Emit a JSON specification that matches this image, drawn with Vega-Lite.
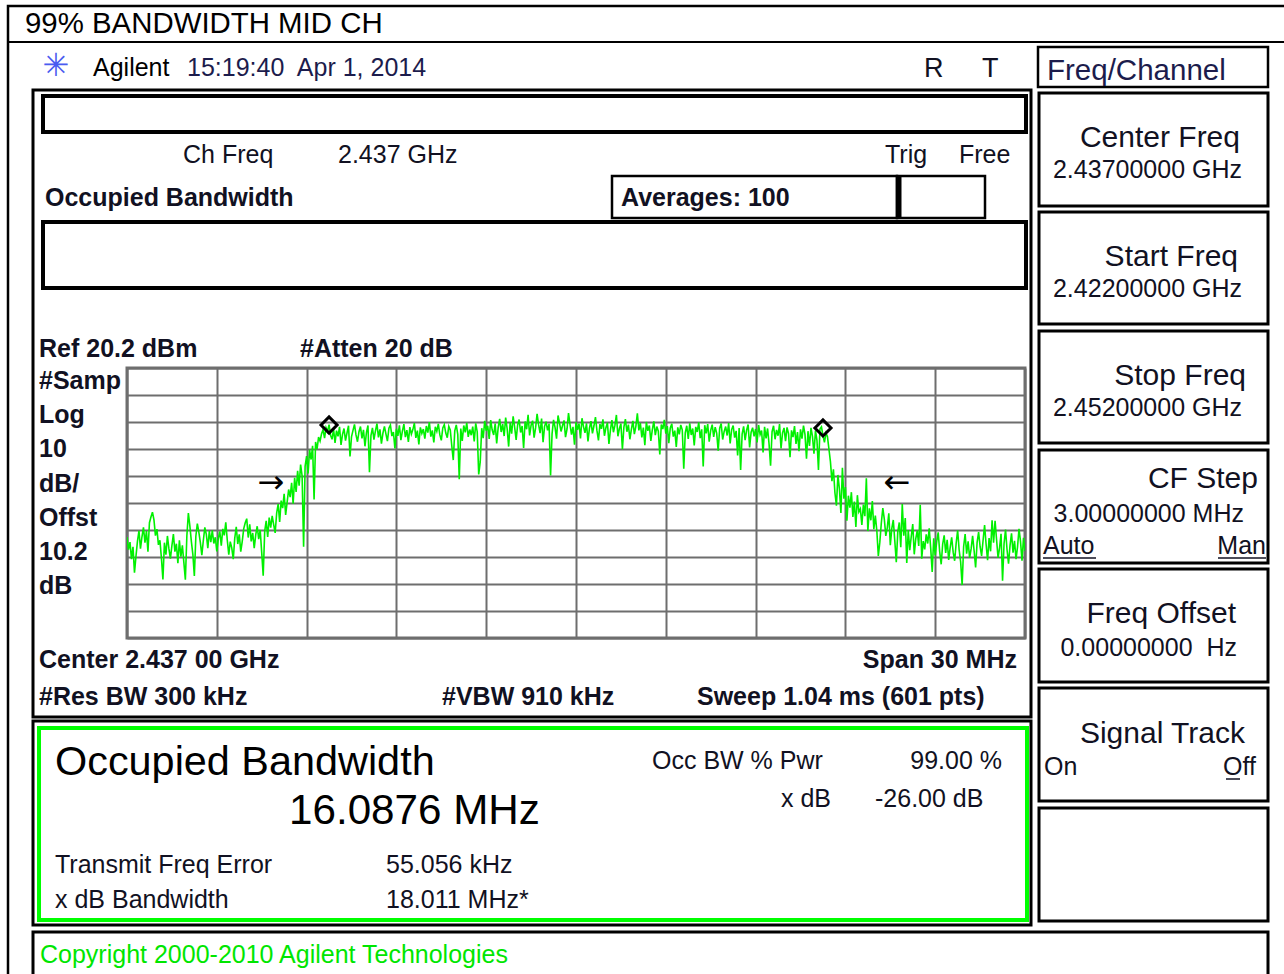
{
"$schema": "https://vega.github.io/schema/vega-lite/v6.json",
"width": 898, "height": 270,
"autosize": {"type": "none"},
"padding": {"left": 127, "top": 368, "right": 259, "bottom": 336},
"background": "white",
"config": {
 "view": {"stroke": "#6e6e6e", "strokeWidth": 3},
 "text": {"font": "Liberation Sans", "fontSize": 25, "align": "left", "baseline": "alphabetic", "color": "#111122"}
},
"data": {"values": [{}]},
"layer": [
 {"mark": {"type": "rect", "filled": false, "stroke": "#000", "strokeWidth": 2.5}, "encoding": {"x": {"datum": 2418.0245}, "x2": {"datum": 2460.853}, "y": {"datum": 154.2741}, "y2": {"datum": -206.4667}}},
 {"mark": {"type": "rule", "stroke": "#000", "strokeWidth": 2}, "encoding": {"x": {"datum": 2418.0245}, "x2": {"datum": 2460.853}, "y": {"datum": 140.9407}}},
 {"mark": {"type": "rect", "filled": false, "stroke": "#000", "strokeWidth": 2.5}, "encoding": {"x": {"datum": 2452.4343}, "x2": {"datum": 2460.1181}, "y": {"datum": 139.0889}, "y2": {"datum": 124.2741}}},
 {"mark": {"type": "rect", "filled": false, "stroke": "#000", "strokeWidth": 3}, "encoding": {"x": {"datum": 2418.8597}, "x2": {"datum": 2452.2005}, "y": {"datum": 123.163}, "y2": {"datum": -109.0593}}},
 {"mark": {"type": "rect", "filled": false, "stroke": "#000", "strokeWidth": 4}, "encoding": {"x": {"datum": 2419.1938}, "x2": {"datum": 2452.0334}, "y": {"datum": 120.9407}, "y2": {"datum": 107.6074}}},
 {"mark": {"type": "rect", "filled": false, "stroke": "#000", "strokeWidth": 2.5}, "encoding": {"x": {"datum": 2438.2027}, "x2": {"datum": 2447.7239}, "y": {"datum": 91.3111}, "y2": {"datum": 75.7556}}},
 {"mark": {"type": "rect", "filled": false, "stroke": "#000", "strokeWidth": 2.5}, "encoding": {"x": {"datum": 2447.7239}, "x2": {"datum": 2450.6637}, "y": {"datum": 91.3111}, "y2": {"datum": 75.7556}}},
 {"mark": {"type": "rule", "stroke": "#000", "strokeWidth": 5}, "encoding": {"x": {"datum": 2447.7907}, "y": {"datum": 91.3111}, "y2": {"datum": 75.7556}}},
 {"mark": {"type": "rect", "filled": false, "stroke": "#000", "strokeWidth": 4}, "encoding": {"x": {"datum": 2419.1938}, "x2": {"datum": 2452.0334}, "y": {"datum": 74.2741}, "y2": {"datum": 49.8296}}},
 {"mark": {"type": "rect", "filled": false, "stroke": "#000", "strokeWidth": 3}, "encoding": {"x": {"datum": 2418.8597}, "x2": {"datum": 2452.2005}, "y": {"datum": -110.5407}, "y2": {"datum": -186.0963}}},
 {"mark": {"type": "rect", "filled": false, "stroke": "#00ff00", "strokeWidth": 4}, "encoding": {"x": {"datum": 2419.0601}, "x2": {"datum": 2452.0668}, "y": {"datum": -113.1333}, "y2": {"datum": -184.2444}}},
 {"mark": {"type": "rect", "filled": false, "stroke": "#000", "strokeWidth": 3}, "encoding": {"x": {"datum": 2418.8597}, "x2": {"datum": 2460.1181}, "y": {"datum": -188.6889}, "y2": {"datum": -206.4667}}},
 {"mark": {"type": "rect", "filled": false, "stroke": "#000", "strokeWidth": 3}, "encoding": {"x": {"datum": 2452.4677}, "x2": {"datum": 2460.1181}, "y": {"datum": 122.0519}, "y2": {"datum": 80.2}}},
 {"mark": {"type": "rect", "filled": false, "stroke": "#000", "strokeWidth": 3}, "encoding": {"x": {"datum": 2452.4677}, "x2": {"datum": 2460.1181}, "y": {"datum": 77.9778}, "y2": {"datum": 36.4963}}},
 {"mark": {"type": "rect", "filled": false, "stroke": "#000", "strokeWidth": 3}, "encoding": {"x": {"datum": 2452.4677}, "x2": {"datum": 2460.1181}, "y": {"datum": 33.9037}, "y2": {"datum": -7.5778}}},
 {"mark": {"type": "rect", "filled": false, "stroke": "#000", "strokeWidth": 3}, "encoding": {"x": {"datum": 2452.4677}, "x2": {"datum": 2460.1181}, "y": {"datum": -10.1704}, "y2": {"datum": -52.0222}}},
 {"mark": {"type": "rect", "filled": false, "stroke": "#000", "strokeWidth": 3}, "encoding": {"x": {"datum": 2452.4677}, "x2": {"datum": 2460.1181}, "y": {"datum": -54.2444}, "y2": {"datum": -96.0963}}},
 {"mark": {"type": "rect", "filled": false, "stroke": "#000", "strokeWidth": 3}, "encoding": {"x": {"datum": 2452.4677}, "x2": {"datum": 2460.1181}, "y": {"datum": -98.3185}, "y2": {"datum": -140.1704}}},
 {"mark": {"type": "rect", "filled": false, "stroke": "#000", "strokeWidth": 3}, "encoding": {"x": {"datum": 2452.4677}, "x2": {"datum": 2460.1181}, "y": {"datum": -142.763}, "y2": {"datum": -184.6148}}},
 {
  "data": {"values": [
{"f":2422.00,"p":-42.4},{"f":2422.05,"p":-47.1},{"f":2422.10,"p":-44.3},{"f":2422.15,"p":-50.6},{"f":2422.20,"p":-46.0},{"f":2422.25,"p":-55.6},{"f":2422.30,"p":-49.5},{"f":2422.35,"p":-43.9},{"f":2422.40,"p":-40.1},{"f":2422.45,"p":-46.7},
{"f":2422.50,"p":-42.3},{"f":2422.55,"p":-38.8},{"f":2422.60,"p":-44.5},{"f":2422.65,"p":-40.2},{"f":2422.70,"p":-47.8},{"f":2422.75,"p":-37.1},{"f":2422.80,"p":-35.0},{"f":2422.85,"p":-33.2},{"f":2422.90,"p":-36.0},{"f":2422.95,"p":-41.9},
{"f":2423.00,"p":-39.5},{"f":2423.05,"p":-45.3},{"f":2423.10,"p":-43.6},{"f":2423.15,"p":-50.2},{"f":2423.20,"p":-58.1},{"f":2423.25,"p":-44.5},{"f":2423.30,"p":-48.9},{"f":2423.35,"p":-42.0},{"f":2423.40,"p":-46.7},{"f":2423.45,"p":-50.4},
{"f":2423.50,"p":-45.6},{"f":2423.55,"p":-41.3},{"f":2423.60,"p":-47.8},{"f":2423.65,"p":-44.9},{"f":2423.70,"p":-52.1},{"f":2423.75,"p":-43.6},{"f":2423.80,"p":-49.7},{"f":2423.85,"p":-45.5},{"f":2423.90,"p":-51.9},{"f":2423.95,"p":-58.2},
{"f":2424.00,"p":-41.9},{"f":2424.05,"p":-33.5},{"f":2424.10,"p":-38.3},{"f":2424.15,"p":-44.0},{"f":2424.20,"p":-48.8},{"f":2424.25,"p":-56.8},{"f":2424.30,"p":-42.1},{"f":2424.35,"p":-37.4},{"f":2424.40,"p":-40.6},{"f":2424.45,"p":-44.4},
{"f":2424.50,"p":-49.1},{"f":2424.55,"p":-43.7},{"f":2424.60,"p":-38.8},{"f":2424.65,"p":-41.4},{"f":2424.70,"p":-46.5},{"f":2424.75,"p":-40.2},{"f":2424.80,"p":-44.3},{"f":2424.85,"p":-39.9},{"f":2424.90,"p":-44.8},{"f":2424.95,"p":-42.5},
{"f":2425.00,"p":-47.7},{"f":2425.05,"p":-43.0},{"f":2425.10,"p":-40.3},{"f":2425.15,"p":-45.6},{"f":2425.20,"p":-39.4},{"f":2425.25,"p":-41.8},{"f":2425.30,"p":-37.0},{"f":2425.35,"p":-43.5},{"f":2425.40,"p":-48.9},{"f":2425.45,"p":-44.1},
{"f":2425.50,"p":-46.4},{"f":2425.55,"p":-50.6},{"f":2425.60,"p":-42.8},{"f":2425.65,"p":-38.6},{"f":2425.70,"p":-45.0},{"f":2425.75,"p":-41.4},{"f":2425.80,"p":-47.8},{"f":2425.85,"p":-44.0},{"f":2425.90,"p":-39.3},{"f":2425.95,"p":-37.1},
{"f":2426.00,"p":-35.6},{"f":2426.05,"p":-42.6},{"f":2426.10,"p":-37.7},{"f":2426.15,"p":-44.0},{"f":2426.20,"p":-40.9},{"f":2426.25,"p":-46.5},{"f":2426.30,"p":-41.6},{"f":2426.35,"p":-38.4},{"f":2426.40,"p":-43.2},{"f":2426.45,"p":-39.8},
{"f":2426.50,"p":-48.1},{"f":2426.55,"p":-56.7},{"f":2426.60,"p":-40.3},{"f":2426.65,"p":-36.4},{"f":2426.70,"p":-42.4},{"f":2426.75,"p":-35.2},{"f":2426.80,"p":-38.9},{"f":2426.85,"p":-34.6},{"f":2426.90,"p":-37.8},{"f":2426.95,"p":-40.9},
{"f":2427.00,"p":-33.5},{"f":2427.05,"p":-30.2},{"f":2427.10,"p":-36.8},{"f":2427.15,"p":-28.9},{"f":2427.20,"p":-31.7},{"f":2427.25,"p":-26.4},{"f":2427.30,"p":-34.2},{"f":2427.35,"p":-29.5},{"f":2427.40,"p":-24.8},{"f":2427.45,"p":-27.6},
{"f":2427.50,"p":-22.3},{"f":2427.55,"p":-30.1},{"f":2427.60,"p":-20.5},{"f":2427.65,"p":-25.7},{"f":2427.70,"p":-17.9},{"f":2427.75,"p":-23.4},{"f":2427.80,"p":-15.6},{"f":2427.85,"p":-19.8},{"f":2427.90,"p":-46.0},{"f":2427.95,"p":-16.2},
{"f":2428.00,"p":-12.4},{"f":2428.05,"p":-18.9},{"f":2428.10,"p":-10.1},{"f":2428.15,"p":-13.7},{"f":2428.20,"p":-8.6},{"f":2428.25,"p":-28.5},{"f":2428.30,"p":-7.2},{"f":2428.35,"p":-9.8},{"f":2428.40,"p":-5.4},{"f":2428.45,"p":-6.9},
{"f":2428.50,"p":-4.1},{"f":2428.55,"p":-2.6},{"f":2428.60,"p":-5.8},{"f":2428.65,"p":-1.9},{"f":2428.70,"p":-3.3},{"f":2428.75,"p":-0.8},{"f":2428.80,"p":-4.7},{"f":2428.85,"p":-6.2},{"f":2428.90,"p":-2.4},{"f":2428.95,"p":-7.5},
{"f":2429.00,"p":-3.0},{"f":2429.05,"p":-5.1},{"f":2429.10,"p":-1.6},{"f":2429.15,"p":-8.3},{"f":2429.20,"p":-4.4},{"f":2429.25,"p":-2.2},{"f":2429.30,"p":-6.7},{"f":2429.35,"p":-3.8},{"f":2429.40,"p":-1.2},{"f":2429.45,"p":-12.6},
{"f":2429.50,"p":-5.3},{"f":2429.55,"p":-2.9},{"f":2429.60,"p":-0.7},{"f":2429.65,"p":-4.6},{"f":2429.70,"p":-7.1},{"f":2429.75,"p":-3.4},{"f":2429.80,"p":-1.5},{"f":2429.85,"p":-5.9},{"f":2429.90,"p":-2.7},{"f":2429.95,"p":-8.8},
{"f":2430.00,"p":-3.6},{"f":2430.05,"p":-1.1},{"f":2430.10,"p":-18.4},{"f":2430.15,"p":-4.8},{"f":2430.20,"p":-2.0},{"f":2430.25,"p":-6.3},{"f":2430.30,"p":-3.1},{"f":2430.35,"p":-0.4},{"f":2430.40,"p":-5.5},{"f":2430.45,"p":-2.5},
{"f":2430.50,"p":-7.8},{"f":2430.55,"p":-3.9},{"f":2430.60,"p":-1.4},{"f":2430.65,"p":-4.2},{"f":2430.70,"p":-6.9},{"f":2430.75,"p":-2.1},{"f":2430.80,"p":-0.9},{"f":2430.85,"p":-5.0},{"f":2430.90,"p":-3.5},{"f":2430.95,"p":-9.6},
{"f":2431.00,"p":-2.3},{"f":2431.05,"p":-4.9},{"f":2431.10,"p":-1.0},{"f":2431.15,"p":-6.5},{"f":2431.20,"p":-3.2},{"f":2431.25,"p":-0.6},{"f":2431.30,"p":-5.4},{"f":2431.35,"p":-2.8},{"f":2431.40,"p":-7.2},{"f":2431.45,"p":-1.7},
{"f":2431.50,"p":-4.3},{"f":2431.55,"p":-2.6},{"f":2431.60,"p":-0.2},{"f":2431.65,"p":-5.7},{"f":2431.70,"p":-3.0},{"f":2431.75,"p":-8.1},{"f":2431.80,"p":-1.8},{"f":2431.85,"p":-4.0},{"f":2431.90,"p":-2.4},{"f":2431.95,"p":-6.0},
{"f":2432.00,"p":-1.3},{"f":2432.05,"p":-3.7},{"f":2432.10,"p":0.2},{"f":2432.15,"p":-5.2},{"f":2432.20,"p":-2.9},{"f":2432.25,"p":-7.4},{"f":2432.30,"p":-1.6},{"f":2432.35,"p":-3.3},{"f":2432.40,"p":-0.5},{"f":2432.45,"p":-4.5},
{"f":2432.50,"p":-6.6},{"f":2432.55,"p":-2.0},{"f":2432.60,"p":-0.8},{"f":2432.65,"p":-3.9},{"f":2432.70,"p":-5.6},{"f":2432.75,"p":-1.4},{"f":2432.80,"p":-2.7},{"f":2432.85,"p":-8.6},{"f":2432.90,"p":-13.9},{"f":2432.95,"p":-3.1},
{"f":2433.00,"p":-0.9},{"f":2433.05,"p":-4.4},{"f":2433.10,"p":-21.0},{"f":2433.15,"p":-2.2},{"f":2433.20,"p":-6.8},{"f":2433.25,"p":-1.1},{"f":2433.30,"p":-3.6},{"f":2433.35,"p":-0.1},{"f":2433.40,"p":-5.3},{"f":2433.45,"p":-2.6},
{"f":2433.50,"p":-4.7},{"f":2433.55,"p":-1.5},{"f":2433.60,"p":-7.0},{"f":2433.65,"p":-0.3},{"f":2433.70,"p":-3.4},{"f":2433.75,"p":-19.2},{"f":2433.80,"p":-14.6},{"f":2433.85,"p":-2.1},{"f":2433.90,"p":-5.8},{"f":2433.95,"p":0.6},
{"f":2434.00,"p":-3.0},{"f":2434.05,"p":-1.2},{"f":2434.10,"p":-6.1},{"f":2434.15,"p":0.9},{"f":2434.20,"p":-2.8},{"f":2434.25,"p":-4.6},{"f":2434.30,"p":-0.4},{"f":2434.35,"p":-7.7},{"f":2434.40,"p":-1.9},{"f":2434.45,"p":1.4},
{"f":2434.50,"p":-3.5},{"f":2434.55,"p":-0.6},{"f":2434.60,"p":-5.0},{"f":2434.65,"p":1.8},{"f":2434.70,"p":-2.3},{"f":2434.75,"p":-8.9},{"f":2434.80,"p":-0.1},{"f":2434.85,"p":-4.1},{"f":2434.90,"p":2.3},{"f":2434.95,"p":-1.7},
{"f":2435.00,"p":-6.4},{"f":2435.05,"p":-0.9},{"f":2435.10,"p":1.1},{"f":2435.15,"p":-3.7},{"f":2435.20,"p":-1.3},{"f":2435.25,"p":-9.4},{"f":2435.30,"p":0.4},{"f":2435.35,"p":-2.5},{"f":2435.40,"p":2.9},{"f":2435.45,"p":-4.8},
{"f":2435.50,"p":-1.0},{"f":2435.55,"p":0.7},{"f":2435.60,"p":-5.6},{"f":2435.65,"p":-2.0},{"f":2435.70,"p":3.2},{"f":2435.75,"p":-0.8},{"f":2435.80,"p":-3.9},{"f":2435.85,"p":1.5},{"f":2435.90,"p":-7.3},{"f":2435.95,"p":-1.4},
{"f":2436.00,"p":0.3},{"f":2436.05,"p":-2.9},{"f":2436.10,"p":-0.5},{"f":2436.15,"p":-19.6},{"f":2436.20,"p":-4.2},{"f":2436.25,"p":1.0},{"f":2436.30,"p":-1.8},{"f":2436.35,"p":-6.0},{"f":2436.40,"p":2.6},{"f":2436.45,"p":-0.2},
{"f":2436.50,"p":-3.3},{"f":2436.55,"p":-1.1},{"f":2436.60,"p":0.8},{"f":2436.65,"p":-5.4},{"f":2436.70,"p":-2.4},{"f":2436.75,"p":3.5},{"f":2436.80,"p":-0.7},{"f":2436.85,"p":-4.5},{"f":2436.90,"p":-1.6},{"f":2436.95,"p":-8.2},
{"f":2437.00,"p":0.1},{"f":2437.05,"p":-2.7},{"f":2437.10,"p":-0.4},{"f":2437.15,"p":-5.9},{"f":2437.20,"p":1.6},{"f":2437.25,"p":-1.5},{"f":2437.30,"p":-3.8},{"f":2437.35,"p":-0.3},{"f":2437.40,"p":-7.0},{"f":2437.45,"p":-2.1},
{"f":2437.50,"p":0.5},{"f":2437.55,"p":-4.0},{"f":2437.60,"p":-1.2},{"f":2437.65,"p":2.0},{"f":2437.70,"p":-3.0},{"f":2437.75,"p":-6.6},{"f":2437.80,"p":-0.6},{"f":2437.85,"p":-2.3},{"f":2437.90,"p":1.2},{"f":2437.95,"p":-4.9},
{"f":2438.00,"p":-1.9},{"f":2438.05,"p":-0.1},{"f":2438.10,"p":-7.9},{"f":2438.15,"p":-2.8},{"f":2438.20,"p":0.9},{"f":2438.25,"p":-3.6},{"f":2438.30,"p":-1.0},{"f":2438.35,"p":2.8},{"f":2438.40,"p":-5.1},{"f":2438.45,"p":-2.2},
{"f":2438.50,"p":-0.4},{"f":2438.55,"p":-9.9},{"f":2438.60,"p":-1.7},{"f":2438.65,"p":1.3},{"f":2438.70,"p":-3.4},{"f":2438.75,"p":-0.8},{"f":2438.80,"p":-6.2},{"f":2438.85,"p":-2.5},{"f":2438.90,"p":0.6},{"f":2438.95,"p":-4.3},
{"f":2439.00,"p":-1.4},{"f":2439.05,"p":3.4},{"f":2439.10,"p":-2.9},{"f":2439.15,"p":-0.2},{"f":2439.20,"p":-5.5},{"f":2439.25,"p":-1.9},{"f":2439.30,"p":-8.4},{"f":2439.35,"p":0.2},{"f":2439.40,"p":-3.1},{"f":2439.45,"p":-1.1},
{"f":2439.50,"p":-6.8},{"f":2439.55,"p":-2.6},{"f":2439.60,"p":0.4},{"f":2439.65,"p":-4.7},{"f":2439.70,"p":-1.5},{"f":2439.75,"p":-3.2},{"f":2439.80,"p":-11.8},{"f":2439.85,"p":-0.7},{"f":2439.90,"p":-2.4},{"f":2439.95,"p":1.0},
{"f":2440.00,"p":-4.1},{"f":2440.05,"p":-1.3},{"f":2440.10,"p":-7.6},{"f":2440.15,"p":-2.0},{"f":2440.20,"p":-0.5},{"f":2440.25,"p":-5.2},{"f":2440.30,"p":-3.0},{"f":2440.35,"p":-9.0},{"f":2440.40,"p":-1.8},{"f":2440.45,"p":-4.4},
{"f":2440.50,"p":-0.9},{"f":2440.55,"p":-2.7},{"f":2440.60,"p":-17.1},{"f":2440.65,"p":-3.8},{"f":2440.70,"p":-1.2},{"f":2440.75,"p":-6.1},{"f":2440.80,"p":-0.3},{"f":2440.85,"p":-4.6},{"f":2440.90,"p":-2.2},{"f":2440.95,"p":-8.5},
{"f":2441.00,"p":-1.6},{"f":2441.05,"p":-3.5},{"f":2441.10,"p":0.1},{"f":2441.15,"p":-5.8},{"f":2441.20,"p":-2.5},{"f":2441.25,"p":-16.3},{"f":2441.30,"p":-1.0},{"f":2441.35,"p":-4.0},{"f":2441.40,"p":-0.6},{"f":2441.45,"p":-7.1},
{"f":2441.50,"p":-2.9},{"f":2441.55,"p":-0.8},{"f":2441.60,"p":-5.3},{"f":2441.65,"p":-1.7},{"f":2441.70,"p":-3.9},{"f":2441.75,"p":-10.4},{"f":2441.80,"p":-2.1},{"f":2441.85,"p":-0.4},{"f":2441.90,"p":-6.3},{"f":2441.95,"p":-3.3},
{"f":2442.00,"p":-1.5},{"f":2442.05,"p":-4.8},{"f":2442.10,"p":-0.2},{"f":2442.15,"p":-7.7},{"f":2442.20,"p":-2.6},{"f":2442.25,"p":-1.1},{"f":2442.30,"p":-5.6},{"f":2442.35,"p":-3.1},{"f":2442.40,"p":-12.2},{"f":2442.45,"p":-2.0},
{"f":2442.50,"p":-17.6},{"f":2442.55,"p":-4.3},{"f":2442.60,"p":-1.4},{"f":2442.65,"p":-6.5},{"f":2442.70,"p":-2.8},{"f":2442.75,"p":-0.7},{"f":2442.80,"p":-9.2},{"f":2442.85,"p":-3.6},{"f":2442.90,"p":-1.9},{"f":2442.95,"p":-5.1},
{"f":2443.00,"p":-2.4},{"f":2443.05,"p":-7.4},{"f":2443.10,"p":-0.9},{"f":2443.15,"p":-4.5},{"f":2443.20,"p":-3.0},{"f":2443.25,"p":-11.1},{"f":2443.30,"p":-1.6},{"f":2443.35,"p":-5.9},{"f":2443.40,"p":-2.2},{"f":2443.45,"p":-8.0},
{"f":2443.50,"p":-16.0},{"f":2443.55,"p":-3.4},{"f":2443.60,"p":-1.2},{"f":2443.65,"p":-6.2},{"f":2443.70,"p":-2.7},{"f":2443.75,"p":-4.9},{"f":2443.80,"p":-0.6},{"f":2443.85,"p":-9.6},{"f":2443.90,"p":-3.8},{"f":2443.95,"p":-2.0},
{"f":2444.00,"p":-6.9},{"f":2444.05,"p":-1.8},{"f":2444.10,"p":-4.1},{"f":2444.15,"p":-12.8},{"f":2444.20,"p":-2.9},{"f":2444.25,"p":-5.4},{"f":2444.30,"p":-1.3},{"f":2444.35,"p":-7.9},{"f":2444.40,"p":-3.5},{"f":2444.45,"p":-10.6},
{"f":2444.50,"p":-2.5},{"f":2444.55,"p":-6.0},{"f":2444.60,"p":-1.1},{"f":2444.65,"p":-4.4},{"f":2444.70,"p":-13.4},{"f":2444.75,"p":-3.2},{"f":2444.80,"p":-8.7},{"f":2444.85,"p":-2.0},{"f":2444.90,"p":-5.1},{"f":2444.95,"p":-11.5},
{"f":2445.00,"p":-3.0},{"f":2445.05,"p":-6.6},{"f":2445.10,"p":-17.6},{"f":2445.15,"p":-2.4},{"f":2445.20,"p":-1.6},{"f":2445.25,"p":-4.8},{"f":2445.30,"p":-7.3},{"f":2445.35,"p":-3.9},{"f":2445.40,"p":-5.2},{"f":2445.45,"p":-9.8},
{"f":2445.50,"p":-14.5},{"f":2445.55,"p":-21.7},{"f":2445.60,"p":-17.3},{"f":2445.65,"p":-26.0},{"f":2445.70,"p":-30.8},{"f":2445.75,"p":-19.4},{"f":2445.80,"p":-24.6},{"f":2445.85,"p":-33.5},{"f":2445.90,"p":-16.8},{"f":2445.95,"p":-28.2},
{"f":2446.00,"p":-23.9},{"f":2446.05,"p":-36.4},{"f":2446.10,"p":-27.1},{"f":2446.15,"p":-31.5},{"f":2446.20,"p":-25.8},{"f":2446.25,"p":-35.0},{"f":2446.30,"p":-29.3},{"f":2446.35,"p":-38.7},{"f":2446.40,"p":-26.9},{"f":2446.45,"p":-33.1},
{"f":2446.50,"p":-32.0},{"f":2446.55,"p":-37.9},{"f":2446.60,"p":-30.4},{"f":2446.65,"p":-34.7},{"f":2446.70,"p":-20.6},{"f":2446.75,"p":-40.2},{"f":2446.80,"p":-31.8},{"f":2446.85,"p":-36.2},{"f":2446.90,"p":-29.1},{"f":2446.95,"p":-39.5},
{"f":2447.00,"p":-34.5},{"f":2447.05,"p":-40.1},{"f":2447.10,"p":-49.4},{"f":2447.15,"p":-44.3},{"f":2447.20,"p":-37.2},{"f":2447.25,"p":-31.7},{"f":2447.30,"p":-35.8},{"f":2447.35,"p":-42.0},{"f":2447.40,"p":-38.9},{"f":2447.45,"p":-33.6},
{"f":2447.50,"p":-45.4},{"f":2447.55,"p":-39.3},{"f":2447.60,"p":-36.1},{"f":2447.65,"p":-43.8},{"f":2447.70,"p":-51.7},{"f":2447.75,"p":-40.5},{"f":2447.80,"p":-37.0},{"f":2447.85,"p":-46.2},{"f":2447.90,"p":-30.2},{"f":2447.95,"p":-41.9},
{"f":2448.00,"p":-35.4},{"f":2448.05,"p":-52.0},{"f":2448.10,"p":-39.8},{"f":2448.15,"p":-47.3},{"f":2448.20,"p":-42.2},{"f":2448.25,"p":-37.6},{"f":2448.30,"p":-48.8},{"f":2448.35,"p":-43.1},{"f":2448.40,"p":-40.0},{"f":2448.45,"p":-45.7},
{"f":2448.50,"p":-30.5},{"f":2448.55,"p":-50.4},{"f":2448.60,"p":-43.9},{"f":2448.65,"p":-47.0},{"f":2448.70,"p":-41.4},{"f":2448.75,"p":-44.8},{"f":2448.80,"p":-39.2},{"f":2448.85,"p":-46.6},{"f":2448.90,"p":-55.3},{"f":2448.95,"p":-42.9},
{"f":2449.00,"p":-49.2},{"f":2449.05,"p":-44.1},{"f":2449.10,"p":-40.7},{"f":2449.15,"p":-47.8},{"f":2449.20,"p":-52.5},{"f":2449.25,"p":-45.0},{"f":2449.30,"p":-41.8},{"f":2449.35,"p":-48.3},{"f":2449.40,"p":-43.4},{"f":2449.45,"p":-50.9},
{"f":2449.50,"p":-46.3},{"f":2449.55,"p":-42.5},{"f":2449.60,"p":-48.0},{"f":2449.65,"p":-51.2},{"f":2449.70,"p":-44.7},{"f":2449.75,"p":-39.9},{"f":2449.80,"p":-47.2},{"f":2449.85,"p":-51.6},{"f":2449.90,"p":-60.2},{"f":2449.95,"p":-45.9},
{"f":2450.00,"p":-41.3},{"f":2450.05,"p":-48.6},{"f":2450.10,"p":-44.0},{"f":2450.15,"p":-50.1},{"f":2450.20,"p":-46.8},{"f":2450.25,"p":-42.0},{"f":2450.30,"p":-47.5},{"f":2450.35,"p":-53.7},{"f":2450.40,"p":-44.4},{"f":2450.45,"p":-40.6},
{"f":2450.50,"p":-46.0},{"f":2450.55,"p":-49.4},{"f":2450.60,"p":-43.6},{"f":2450.65,"p":-38.0},{"f":2450.70,"p":-45.1},{"f":2450.75,"p":-51.0},{"f":2450.80,"p":-42.8},{"f":2450.85,"p":-47.7},{"f":2450.90,"p":-36.2},{"f":2450.95,"p":-44.5},
{"f":2451.00,"p":-36.4},{"f":2451.05,"p":-43.3},{"f":2451.10,"p":-50.1},{"f":2451.15,"p":-46.4},{"f":2451.20,"p":-41.2},{"f":2451.25,"p":-58.6},{"f":2451.30,"p":-44.9},{"f":2451.35,"p":-39.6},{"f":2451.40,"p":-47.1},{"f":2451.45,"p":-52.3},
{"f":2451.50,"p":-45.5},{"f":2451.55,"p":-41.0},{"f":2451.60,"p":-48.2},{"f":2451.65,"p":-43.8},{"f":2451.70,"p":-50.6},{"f":2451.75,"p":-46.1},{"f":2451.80,"p":-39.4},{"f":2451.85,"p":-44.0},{"f":2451.90,"p":-51.2},{"f":2451.95,"p":-42.7},
{"f":2452.00,"p":-47.6}
  ]},
  "mark": {"type": "line", "color": "#00f000", "strokeWidth": 1.6, "clip": true},
  "encoding": {
   "x": {"field": "f", "type": "quantitative", "scale": {"domain": [2422, 2452], "nice": false, "zero": false},
    "axis": {"title": null, "labels": false, "ticks": false, "domain": false, "grid": true, "gridColor": "#6e6e6e", "gridWidth": 2, "gridOpacity": 1, "tickCount": 30, "values": [2422, 2425, 2428, 2431, 2434, 2437, 2440, 2443, 2446, 2449, 2452]}},
   "y": {"field": "p", "type": "quantitative", "scale": {"domain": [-79.8, 20.2], "nice": false, "zero": false},
    "axis": {"title": null, "labels": false, "ticks": false, "domain": false, "grid": true, "gridColor": "#6e6e6e", "gridWidth": 2, "gridOpacity": 1, "tickCount": 30, "values": [-79.8, -69.8, -59.8, -49.8, -39.8, -29.8, -19.8, -9.8, 0.2, 10.2, 20.2]}}
  }
 },
 {
  "data": {"values": [{"f": 2428.75, "p": -0.9}, {"f": 2445.25, "p": -2.0}]},
  "mark": {"type": "point", "shape": "diamond", "filled": false, "stroke": "#000", "strokeWidth": 3, "size": 260, "opacity": 1},
  "encoding": {"x": {"field": "f", "type": "quantitative"}, "y": {"field": "p", "type": "quantitative"}}
 },
 {"mark": {"type": "text", "text": "→", "font": "DejaVu Sans", "fontSize": 32, "align": "center", "baseline": "middle", "color": "#000"}, "encoding": {"x": {"datum": 2426.8107}, "y": {"datum": -22.3926}}},
 {"mark": {"type": "text", "text": "←", "font": "DejaVu Sans", "fontSize": 32, "align": "center", "baseline": "middle", "color": "#000"}, "encoding": {"x": {"datum": 2447.7239}, "y": {"datum": -22.3926}}},
 {"mark": {"type": "text", "text": "99% BANDWIDTH MID CH", "fontSize": 29.4, "color": "#000"}, "encoding": {"x": {"datum": 2418.5924}, "y": {"datum": 144.2741}}},
 {"mark": {"type": "text", "text": "✳", "font": "DejaVu Sans", "fontSize": 32, "align": "center", "baseline": "middle", "color": "#4a5cf0"}, "encoding": {"x": {"datum": 2419.6281}, "y": {"datum": 132.0519}}},
 {"mark": {"type": "text", "text": "Agilent", "color": "#000"}, "encoding": {"x": {"datum": 2420.8641}, "y": {"datum": 128.3481}}},
 {"mark": {"type": "text", "text": "15:19:40\u00a0 Apr 1, 2014", "color": "#1c1c4c"}, "encoding": {"x": {"datum": 2424.0045}, "y": {"datum": 128.3481}}},
 {"mark": {"type": "text", "text": "R", "fontSize": 27}, "encoding": {"x": {"datum": 2448.6259}, "y": {"datum": 127.9778}}},
 {"mark": {"type": "text", "text": "T", "fontSize": 27}, "encoding": {"x": {"datum": 2450.5635}, "y": {"datum": 127.9778}}},
 {"mark": {"type": "text", "text": "Freq/Channel", "fontSize": 29.5, "color": "#1c1c4c"}, "encoding": {"x": {"datum": 2452.735}, "y": {"datum": 126.8667}}},
 {"mark": {"type": "text", "text": "Ch Freq"}, "encoding": {"x": {"datum": 2423.8708}, "y": {"datum": 96.1259}}},
 {"mark": {"type": "text", "text": "2.437 GHz"}, "encoding": {"x": {"datum": 2429.049}, "y": {"datum": 96.1259}}},
 {"mark": {"type": "text", "text": "Trig"}, "encoding": {"x": {"datum": 2447.323}, "y": {"datum": 96.1259}}},
 {"mark": {"type": "text", "text": "Free"}, "encoding": {"x": {"datum": 2449.7951}, "y": {"datum": 96.1259}}},
 {"mark": {"type": "text", "text": "Occupied Bandwidth", "fontWeight": "bold"}, "encoding": {"x": {"datum": 2419.2606}, "y": {"datum": 80.2}}},
 {"mark": {"type": "text", "text": "Averages: 100", "fontWeight": "bold"}, "encoding": {"x": {"datum": 2438.5034}, "y": {"datum": 80.2}}},
 {"mark": {"type": "text", "text": "Ref 20.2 dBm", "fontWeight": "bold"}, "encoding": {"x": {"datum": 2419.0601}, "y": {"datum": 24.2741}}},
 {"mark": {"type": "text", "text": "#Atten 20 dB", "fontWeight": "bold"}, "encoding": {"x": {"datum": 2427.7795}, "y": {"datum": 24.2741}}},
 {"mark": {"type": "text", "text": ["#Samp", "Log", "10", "dB/", "Offst", "10.2", "dB"], "lineHeight": 34.2, "fontWeight": "bold"}, "encoding": {"x": {"datum": 2419.0601}, "y": {"datum": 12.4222}}},
 {"mark": {"type": "text", "text": "Center 2.437 00 GHz", "fontWeight": "bold"}, "encoding": {"x": {"datum": 2419.0601}, "y": {"datum": -90.9111}}},
 {"mark": {"type": "text", "text": "Span 30 MHz", "fontWeight": "bold", "align": "right"}, "encoding": {"x": {"datum": 2451.7328}, "y": {"datum": -90.9111}}},
 {"mark": {"type": "text", "text": "#Res BW 300 kHz", "fontWeight": "bold"}, "encoding": {"x": {"datum": 2419.0601}, "y": {"datum": -104.6148}}},
 {"mark": {"type": "text", "text": "#VBW 910 kHz", "fontWeight": "bold"}, "encoding": {"x": {"datum": 2432.5234}, "y": {"datum": -104.6148}}},
 {"mark": {"type": "text", "text": "Sweep 1.04 ms (601 pts)", "fontWeight": "bold"}, "encoding": {"x": {"datum": 2441.0423}, "y": {"datum": -104.6148}}},
 {"mark": {"type": "text", "text": "Occupied Bandwidth", "fontSize": 41.4, "color": "#000"}, "encoding": {"x": {"datum": 2419.5947}, "y": {"datum": -130.5407}}},
 {"mark": {"type": "text", "text": "16.0876 MHz", "fontSize": 42.2, "color": "#000"}, "encoding": {"x": {"datum": 2427.412}, "y": {"datum": -148.6889}}},
 {"mark": {"type": "text", "text": "Occ BW % Pwr"}, "encoding": {"x": {"datum": 2439.539}, "y": {"datum": -128.3185}}},
 {"mark": {"type": "text", "text": "99.00 %", "align": "right"}, "encoding": {"x": {"datum": 2451.2317}, "y": {"datum": -128.3185}}},
 {"mark": {"type": "text", "text": "x dB", "align": "right"}, "encoding": {"x": {"datum": 2445.519}, "y": {"datum": -142.3926}}},
 {"mark": {"type": "text", "text": "-26.00 dB"}, "encoding": {"x": {"datum": 2446.9889}, "y": {"datum": -142.3926}}},
 {"mark": {"type": "text", "text": "Transmit Freq Error"}, "encoding": {"x": {"datum": 2419.5947}, "y": {"datum": -166.837}}},
 {"mark": {"type": "text", "text": "55.056 kHz"}, "encoding": {"x": {"datum": 2430.6526}, "y": {"datum": -166.837}}},
 {"mark": {"type": "text", "text": "x dB Bandwidth"}, "encoding": {"x": {"datum": 2419.5947}, "y": {"datum": -179.8}}},
 {"mark": {"type": "text", "text": "18.011 MHz*"}, "encoding": {"x": {"datum": 2430.6526}, "y": {"datum": -179.8}}},
 {"mark": {"type": "text", "text": "Copyright 2000-2010 Agilent Technologies", "color": "#00e600"}, "encoding": {"x": {"datum": 2419.0935}, "y": {"datum": -200.1704}}},
 {"mark": {"type": "text", "text": "Center Freq", "fontSize": 30, "align": "right"}, "encoding": {"x": {"datum": 2459.1827}, "y": {"datum": 102.0519}}},
 {"mark": {"type": "text", "text": "2.43700000 GHz", "align": "right"}, "encoding": {"x": {"datum": 2459.2495}, "y": {"datum": 90.5704}}},
 {"mark": {"type": "text", "text": "Start Freq", "fontSize": 30, "align": "right"}, "encoding": {"x": {"datum": 2459.1158}, "y": {"datum": 57.9778}}},
 {"mark": {"type": "text", "text": "2.42200000 GHz", "align": "right"}, "encoding": {"x": {"datum": 2459.2495}, "y": {"datum": 46.4963}}},
 {"mark": {"type": "text", "text": "Stop Freq", "fontSize": 30, "align": "right"}, "encoding": {"x": {"datum": 2459.3831}, "y": {"datum": 13.9037}}},
 {"mark": {"type": "text", "text": "2.45200000 GHz", "align": "right"}, "encoding": {"x": {"datum": 2459.2495}, "y": {"datum": 2.4222}}},
 {"mark": {"type": "text", "text": "CF Step", "fontSize": 30, "align": "right"}, "encoding": {"x": {"datum": 2459.784}, "y": {"datum": -24.2444}}},
 {"mark": {"type": "text", "text": "3.00000000 MHz", "align": "right"}, "encoding": {"x": {"datum": 2459.3163}, "y": {"datum": -36.837}}},
 {"mark": {"type": "text", "text": "Auto"}, "encoding": {"x": {"datum": 2452.6014}, "y": {"datum": -48.6889}}},
 {"mark": {"type": "text", "text": "Man", "align": "right"}, "encoding": {"x": {"datum": 2460.0513}, "y": {"datum": -48.6889}}},
 {"mark": {"type": "rule", "stroke": "#111122", "strokeWidth": 1.5}, "encoding": {"x": {"datum": 2452.6014}, "x2": {"datum": 2454.372}, "y": {"datum": -50.1704}}},
 {"mark": {"type": "rule", "stroke": "#111122", "strokeWidth": 1.5}, "encoding": {"x": {"datum": 2458.4477}, "x2": {"datum": 2460.0513}, "y": {"datum": -50.1704}}},
 {"mark": {"type": "text", "text": "Freq Offset", "fontSize": 30, "align": "right"}, "encoding": {"x": {"datum": 2459.049}, "y": {"datum": -74.2444}}},
 {"mark": {"type": "text", "text": "0.00000000\u00a0 Hz", "align": "right"}, "encoding": {"x": {"datum": 2459.0824}, "y": {"datum": -86.4667}}},
 {"mark": {"type": "text", "text": "Signal Track", "fontSize": 30, "align": "right"}, "encoding": {"x": {"datum": 2459.3497}, "y": {"datum": -118.6889}}},
 {"mark": {"type": "text", "text": "On"}, "encoding": {"x": {"datum": 2452.6348}, "y": {"datum": -130.5407}}},
 {"mark": {"type": "text", "text": "Off", "align": "right"}, "encoding": {"x": {"datum": 2459.7172}, "y": {"datum": -130.5407}}},
 {"mark": {"type": "rule", "stroke": "#111122", "strokeWidth": 1.5}, "encoding": {"x": {"datum": 2458.715}, "x2": {"datum": 2459.1827}, "y": {"datum": -132.0222}}}
]
}
